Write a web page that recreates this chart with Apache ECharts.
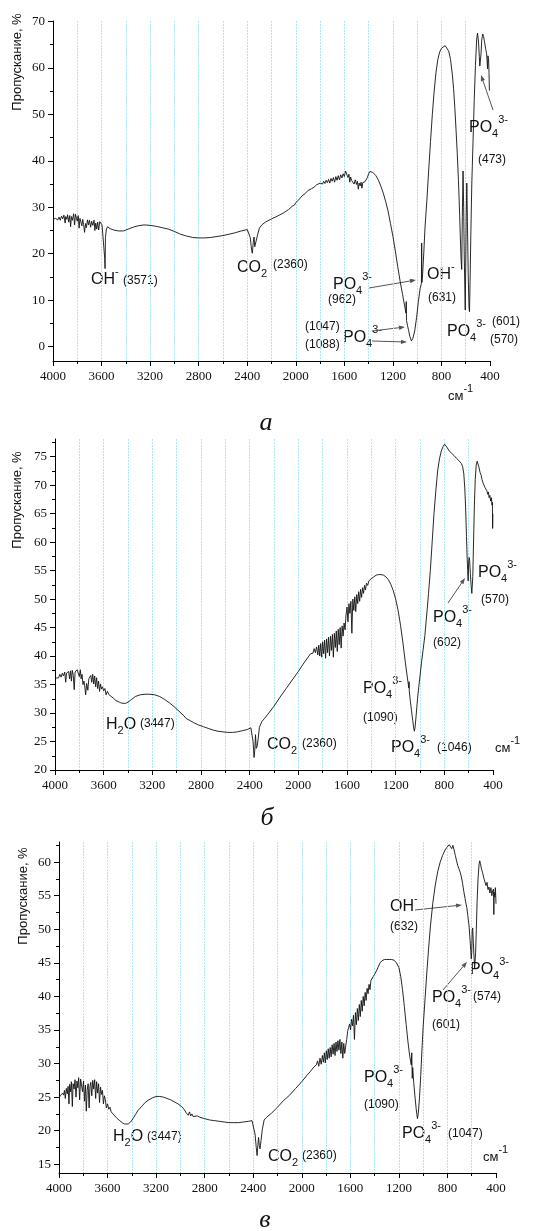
<!DOCTYPE html>
<html>
<head>
<meta charset="utf-8">
<script src="https://cdn.jsdelivr.net/npm/echarts@6/dist/echarts.min.js"></script>
<style>
  html, body { margin: 0; padding: 0; background: #fff; }
  #chart { width: 534px; height: 1231px; }
</style>
</head>
<body>
<div id="chart"></div>
<script>
// IR spectra, [wavenumber cm-1, transmission %]
const spectrumA = [
  [4000,27.4],[3980,27.6],[3960,27.3],[3950,27.9],[3940,27.2],[3930,28.1],[3920,27.5],[3910,28.3],[3900,26.6],[3895,28.0],
  [3885,27.4],[3880,28.4],[3870,26.8],[3862,28.2],[3855,25.8],[3848,28.0],[3840,27.2],[3830,28.6],[3822,26.2],[3815,28.5],
  [3808,28.7],[3800,27.0],[3792,28.2],[3785,25.5],[3778,27.6],[3770,27.9],[3762,26.0],[3755,27.4],[3748,26.3],[3740,24.6],
  [3732,26.5],[3725,25.6],[3716,27.3],[3708,26.2],[3700,27.2],[3690,25.7],[3682,27.0],[3672,26.1],[3662,27.2],[3655,25.0],
  [3648,26.6],[3640,25.3],[3632,26.8],[3624,25.1],[3615,26.9],[3606,27.0],[3596,26.2],[3588,26.0],[3580,25.8],[3574,19.0],
  [3571,16.8],[3568,23.5],[3560,25.3],[3550,25.8],[3530,25.4],[3500,25.1],[3460,24.9],[3420,24.9],[3380,25.3],[3340,25.7],
  [3300,26.0],[3250,26.2],[3200,26.1],[3150,25.9],[3100,25.6],[3050,25.3],[3000,24.8],[2950,24.2],[2900,23.8],[2850,23.5],
  [2800,23.4],[2750,23.4],[2700,23.5],[2650,23.7],[2600,23.9],[2550,24.2],[2500,24.5],[2450,24.9],[2400,25.2],[2385,25.3],
  [2375,23.5],[2365,21.0],[2358,20.1],[2350,22.5],[2344,23.6],[2338,21.5],[2330,21.2],[2315,24.0],[2300,25.5],[2280,26.2],
  [2250,26.8],[2200,27.5],[2150,28.1],[2100,28.8],[2060,29.5],[2030,30.2],[2010,30.5],[2000,31.0],[1990,30.8],[1975,31.6],
  [1950,32.4],[1920,33.0],[1900,33.6],[1870,34.0],[1850,34.3],[1830,34.8],[1800,35.2],[1780,35.0],[1770,35.6],[1760,35.1],
  [1750,35.8],[1740,35.3],[1730,36.0],[1720,35.2],[1710,36.2],[1700,35.6],[1690,36.4],[1680,35.4],[1670,36.6],[1660,35.8],
  [1650,36.8],[1640,35.9],[1630,37.0],[1620,36.3],[1610,37.2],[1600,36.6],[1590,37.8],[1580,37.4],[1570,36.4],[1562,37.1],
  [1555,35.4],[1548,36.5],[1540,35.8],[1530,36.2],[1520,35.0],[1510,35.9],[1500,34.9],[1492,35.6],[1485,33.9],[1478,35.2],
  [1470,34.6],[1462,35.4],[1455,34.1],[1448,35.3],[1440,35.0],[1430,35.5],[1420,35.2],[1410,36.4],[1400,37.2],[1390,37.7],
  [1380,37.8],[1365,37.5],[1340,36.8],[1320,35.9],[1300,34.6],[1280,33.1],[1260,31.3],[1240,29.2],[1220,26.5],[1200,23.8],
  [1180,20.6],[1160,17.2],[1140,14.0],[1120,11.2],[1100,8.3],[1092,7.2],[1090,9.7],[1088,5.6],[1080,4.6],[1070,3.4],
  [1060,2.2],[1047,1.2],[1035,1.8],[1020,3.4],[1005,6.2],[990,9.7],[975,12.6],[965,13.6],[963,22.3],[961,13.8],
  [955,15.6],[945,20.4],[935,25.8],[920,31.5],[905,38.0],[890,44.2],[875,50.0],[860,55.0],[845,59.0],[830,61.8],
  [815,63.4],[800,64.2],[785,64.6],[770,64.8],[755,64.4],[740,63.6],[725,61.8],[710,58.5],[700,55.5],[690,51.5],
  [680,46.8],[670,41.7],[660,35.8],[650,28.5],[645,24.0],[638,18.5],[633,16.6],[628,28.0],[622,37.8],[617,30.0],
  [612,19.5],[604,7.9],[600,17.0],[596,28.0],[591,35.2],[586,27.0],[579,15.0],[573,8.5],[569,7.5],[564,14.0],
  [558,24.0],[550,35.0],[540,44.0],[530,53.0],[520,60.5],[510,66.0],[503,67.5],[495,65.8],[488,62.5],[484,60.4],
  [478,60.0],[474,63.0],[468,66.0],[460,67.3],[453,66.8],[445,65.6],[435,64.0],[428,63.1],[423,62.8],[420,59.8],
  [417,62.6],[412,62.0],[408,59.0],[405,55.1]
];

const spectrumB = [
  [4000,36.1],[3985,36.4],[3970,36.2],[3960,36.8],[3950,36.3],[3940,37.0],[3930,36.5],[3920,37.2],[3912,35.4],[3905,37.0],
  [3895,36.8],[3888,37.3],[3880,36.0],[3872,37.4],[3865,35.6],[3858,37.5],[3850,36.6],[3842,34.1],[3835,37.2],[3826,36.9],
  [3818,37.6],[3808,37.8],[3800,36.4],[3792,37.6],[3785,36.0],[3778,36.8],[3770,35.0],[3762,35.6],[3755,34.6],[3748,33.2],
  [3740,35.2],[3730,34.0],[3722,36.0],[3714,35.8],[3706,36.6],[3698,35.4],[3690,36.8],[3682,35.1],[3674,36.5],[3666,34.6],
  [3658,36.2],[3650,34.3],[3642,35.6],[3634,33.8],[3626,35.1],[3618,34.2],[3610,34.6],[3600,33.9],[3590,34.3],[3580,33.2],
  [3570,33.8],[3555,33.2],[3540,33.0],[3520,32.6],[3500,32.2],[3480,32.0],[3460,31.8],[3440,31.7],[3420,31.7],[3400,31.9],
  [3370,32.4],[3340,32.9],[3300,33.2],[3260,33.3],[3220,33.3],[3180,33.2],[3140,32.9],[3100,32.4],[3060,31.8],[3020,31.1],
  [2980,30.3],[2940,29.5],[2920,29.0],[2900,28.8],[2860,28.3],[2820,27.9],[2780,27.6],[2740,27.3],[2700,27.0],[2660,26.8],
  [2620,26.7],[2580,26.6],[2540,26.6],[2500,26.7],[2460,26.9],[2420,27.1],[2390,27.4],[2380,27.5],[2372,25.0],[2364,22.2],
  [2358,23.5],[2352,26.2],[2346,23.8],[2338,24.2],[2330,25.5],[2320,27.5],[2300,28.5],[2280,29.0],[2250,29.8],[2200,31.2],
  [2150,32.8],[2100,34.3],[2050,35.8],[2000,37.3],[1960,38.6],[1920,39.8],[1900,40.4],[1880,40.5],[1870,41.3],[1860,40.6],
  [1850,41.6],[1840,40.2],[1832,41.9],[1824,40.0],[1816,42.2],[1808,39.8],[1800,42.5],[1792,40.4],[1784,42.8],[1776,39.6],
  [1768,43.0],[1760,40.6],[1752,43.3],[1744,40.0],[1736,43.5],[1728,41.0],[1720,43.8],[1712,39.8],[1704,44.0],[1696,41.5],
  [1688,44.4],[1680,40.8],[1672,44.7],[1664,42.0],[1656,45.0],[1648,41.4],[1640,45.3],[1632,43.5],[1624,45.8],[1616,44.6],
  [1608,47.2],[1600,48.6],[1592,46.0],[1584,49.2],[1576,47.5],[1568,49.6],[1560,44.0],[1552,50.0],[1544,48.0],[1536,50.4],
  [1528,47.8],[1520,50.8],[1512,49.2],[1504,51.3],[1496,49.6],[1488,51.7],[1480,50.3],[1472,52.0],[1464,51.0],[1456,52.4],
  [1448,51.6],[1440,52.8],[1430,52.4],[1420,53.2],[1410,53.0],[1400,53.6],[1380,53.9],[1360,54.2],[1340,54.3],[1320,54.3],
  [1300,54.2],[1280,53.9],[1260,53.4],[1240,52.6],[1220,51.5],[1200,50.0],[1180,48.0],[1160,45.4],[1140,42.3],[1120,38.8],
  [1100,35.6],[1092,34.4],[1090,35.5],[1088,33.8],[1080,32.2],[1070,30.5],[1060,28.7],[1050,27.2],[1046,26.8],[1040,27.6],
  [1030,30.0],[1020,32.6],[1010,34.6],[1000,36.5],[988,38.8],[975,41.0],[960,43.6],[950,46.0],[940,48.4],[930,51.0],
  [915,55.0],[900,60.0],[885,65.0],[870,69.0],[855,72.5],[840,74.6],[825,76.0],[810,76.8],[798,77.2],[790,77.0],
  [780,76.7],[770,76.4],[760,76.0],[750,75.8],[740,75.6],[730,75.5],[720,75.2],[710,75.0],[700,74.7],[690,74.5],
  [680,74.3],[670,74.0],[660,73.8],[650,73.3],[640,72.0],[632,69.5],[625,66.0],[618,61.0],[612,57.0],[608,55.0],
  [604,53.2],[600,56.5],[596,57.3],[592,56.8],[586,54.5],[580,52.4],[574,51.0],[570,51.3],[566,54.0],[560,60.0],
  [553,66.5],[546,71.0],[538,73.5],[530,74.2],[522,74.0],[514,73.0],[506,72.2],[498,71.8],[490,71.0],[482,70.4],
  [474,70.6],[466,69.6],[458,69.9],[450,69.0],[444,68.4],[438,68.8],[432,67.8],[426,68.2],[420,67.2],[414,67.8],
  [408,66.5],[405,67.0],[403,62.4],[401,65.0]
];

const spectrumC = [
  [4000,24.9],[3990,25.2],[3980,25.0],[3970,25.6],[3962,25.3],[3955,26.0],[3948,24.8],[3940,26.3],[3932,25.5],[3925,26.6],
  [3918,24.0],[3912,26.9],[3905,25.8],[3898,27.3],[3890,23.6],[3884,27.0],[3876,26.2],[3868,27.6],[3860,25.0],[3852,27.4],
  [3845,26.4],[3838,27.9],[3830,24.6],[3822,27.7],[3815,27.8],[3806,25.8],[3798,27.4],[3790,24.4],[3782,26.8],[3775,22.9],
  [3768,26.0],[3760,27.0],[3752,23.4],[3745,26.6],[3738,27.2],[3730,25.2],[3722,27.5],[3714,26.2],[3706,27.6],[3698,24.8],
  [3690,27.3],[3682,25.6],[3674,27.0],[3666,24.2],[3658,26.5],[3650,25.4],[3642,26.0],[3634,24.0],[3626,25.2],[3618,24.6],
  [3610,23.4],[3600,24.0],[3590,23.2],[3580,23.5],[3570,22.8],[3555,22.6],[3540,22.2],[3520,21.8],[3500,21.5],[3480,21.2],
  [3460,21.0],[3445,20.9],[3430,21.0],[3410,21.3],[3390,21.8],[3370,22.4],[3350,23.0],[3320,23.6],[3290,24.2],[3260,24.6],
  [3230,24.9],[3200,25.1],[3170,25.1],[3140,25.0],[3110,24.8],[3080,24.6],[3050,24.3],[3020,24.0],[2990,23.6],[2970,23.2],
  [2950,22.6],[2935,22.3],[2925,22.8],[2915,22.2],[2905,22.5],[2895,22.1],[2880,22.3],[2860,22.2],[2840,22.0],[2800,21.8],
  [2760,21.6],[2720,21.5],[2680,21.4],[2640,21.3],[2600,21.2],[2560,21.2],[2520,21.2],[2480,21.3],[2440,21.4],[2410,21.5],
  [2395,21.5],[2385,19.5],[2375,17.5],[2368,16.3],[2362,17.8],[2356,19.0],[2350,17.8],[2344,17.3],[2336,18.5],[2325,20.2],
  [2310,21.6],[2290,22.0],[2250,22.6],[2200,23.5],[2150,24.5],[2100,25.3],[2050,26.3],[2000,27.3],[1960,28.2],[1930,28.8],
  [1900,29.5],[1880,29.8],[1870,30.4],[1860,29.6],[1850,30.8],[1840,29.9],[1830,31.2],[1822,30.2],[1814,31.6],[1806,30.1],
  [1798,31.9],[1790,30.6],[1782,32.2],[1774,30.8],[1766,32.4],[1758,31.0],[1750,32.8],[1742,31.4],[1734,33.0],[1726,31.2],
  [1718,33.2],[1710,31.8],[1702,33.4],[1694,32.0],[1686,33.6],[1678,31.5],[1670,33.2],[1662,30.8],[1654,33.0],[1646,31.5],
  [1638,32.6],[1630,33.6],[1622,34.8],[1614,35.4],[1606,35.9],[1598,35.0],[1590,36.6],[1582,35.6],[1574,37.2],[1566,33.6],
  [1558,37.6],[1550,35.8],[1542,38.2],[1534,36.4],[1526,38.8],[1518,37.0],[1510,39.4],[1502,37.8],[1494,40.0],[1486,38.6],
  [1478,40.6],[1470,39.4],[1462,41.2],[1454,40.4],[1446,41.8],[1438,41.0],[1430,42.4],[1420,42.2],[1410,43.0],[1400,43.3],
  [1385,43.8],[1370,44.4],[1355,45.0],[1340,45.3],[1320,45.5],[1300,45.5],[1280,45.5],[1260,45.5],[1240,45.4],[1220,45.0],
  [1200,44.3],[1185,43.0],[1170,41.0],[1155,38.5],[1140,35.8],[1125,33.2],[1110,31.0],[1098,29.8],[1094,31.6],[1090,27.8],
  [1086,29.4],[1078,27.2],[1068,25.2],[1058,23.3],[1050,22.2],[1047,21.8],[1040,22.6],[1030,25.0],[1020,28.2],[1010,32.0],
  [1000,35.5],[985,39.5],[970,43.5],[955,47.2],[940,50.5],[920,54.0],[900,56.6],[880,58.6],[860,60.0],[840,61.0],
  [820,61.8],[805,62.2],[795,62.4],[785,62.6],[775,62.4],[765,62.0],[755,62.5],[745,61.8],[735,61.0],[725,60.2],
  [715,59.5],[705,59.0],[695,58.5],[685,57.8],[675,56.8],[665,55.6],[655,54.6],[648,53.9],[640,53.2],[632,52.0],
  [622,50.5],[614,48.5],[608,46.8],[604,45.6],[600,46.5],[596,49.8],[592,50.2],[588,48.5],[582,46.2],[576,44.2],
  [572,44.0],[568,46.5],[562,50.0],[556,54.0],[548,57.5],[540,59.6],[534,60.2],[528,59.8],[520,59.0],[510,58.4],
  [500,57.6],[490,57.4],[482,56.5],[474,57.0],[466,55.9],[458,56.3],[450,55.4],[442,56.2],[434,55.0],[428,55.7],
  [420,56.0],[418,52.2],[415,55.5],[410,54.8],[405,56.2],[400,53.8]
];

// y tick values per panel
const yMajorA = [0, 10, 20, 30, 40, 50, 60, 70];
const yMinorA = [5, 15, 25, 35, 45, 55, 65];
const yMajorB = [20, 25, 30, 35, 40, 45, 50, 55, 60, 65, 70, 75];
const yMinorB = [22.5, 27.5, 32.5, 37.5, 42.5, 47.5, 52.5, 57.5, 62.5, 67.5, 72.5, 77.5];
const yMajorC = [15, 20, 25, 30, 35, 40, 45, 50, 55, 60];
const yMinorC = [17.5, 22.5, 27.5, 32.5, 37.5, 42.5, 47.5, 52.5, 57.5, 62.5];

const SERIF = '"Liberation Serif", "Times New Roman", serif';
const SANS = '"Liberation Sans", Arial, sans-serif';
const MAIN = 16, SMALL = 11, NOTE = 12;

const panels = [
  { data: spectrumA, yMin: -3.1, yMax: 70.1, major: yMajorA, minor: yMinorA, grid: { left: 53, top: 21, width: 437, height: 340 } },
  { data: spectrumB, yMin: 20, yMax: 78.1, major: yMajorB, minor: yMinorB, grid: { left: 55, top: 439, width: 438, height: 331 } },
  { data: spectrumC, yMin: 13.7, yMax: 63, major: yMajorC, minor: yMinorC, grid: { left: 59, top: 842, width: 437, height: 331 } }
];

const gridLine = { color: '#a9e9f1', width: 1, type: [2, 1] };

const grids = [], xAxes = [], yAxes = [], series = [];
panels.forEach((p, i) => {
  grids.push(p.grid);
  xAxes.push({
    gridIndex: i, type: 'value', inverse: true, min: 400, max: 4000, interval: 400,
    axisLine: { show: true, onZero: false, lineStyle: { color: '#000', width: 1 } },
    axisTick: { show: true, length: 5, lineStyle: { color: '#000' } },
    minorTick: { show: true, splitNumber: 2, length: 3, lineStyle: { color: '#000' } },
    axisLabel: { fontFamily: SERIF, fontSize: 13, color: '#111', margin: 9, formatter: v => String(v) },
    splitLine: { show: true, showMinLine: false, showMaxLine: false, lineStyle: gridLine },
    minorSplitLine: { show: true, lineStyle: gridLine }
  });
  yAxes.push({
    gridIndex: i, type: 'value', position: 'left', min: p.yMin, max: p.yMax,
    axisLine: { show: true, onZero: false, lineStyle: { color: '#000', width: 1 } },
    axisTick: { show: true, length: 5, customValues: p.major, lineStyle: { color: '#000' } },
    axisLabel: { customValues: p.major, fontFamily: SERIF, fontSize: 13, color: '#111', margin: 8, formatter: v => String(v) },
    splitLine: { show: false }
  });
  yAxes.push({
    gridIndex: i, type: 'value', position: 'left', min: p.yMin, max: p.yMax,
    axisLine: { show: false },
    axisTick: { show: true, length: 3, customValues: p.minor, lineStyle: { color: '#000' } },
    axisLabel: { show: false },
    splitLine: { show: false }
  });
  series.push({
    type: 'line', xAxisIndex: i, yAxisIndex: 2 * i, data: p.data,
    showSymbol: false, symbol: 'none', clip: true,
    lineStyle: { color: '#111', width: 0.9 }
  });
});

// annotation helpers
const ctx = document.createElement('canvas').getContext('2d');
function textWidth(s, size) {
  ctx.font = size + 'px ' + SANS;
  return ctx.measureText(s).width;
}
function txt(x, y, s, size, extra) {
  return Object.assign({
    type: 'text', x: x, y: y, silent: true,
    style: { text: s, fontSize: size, fontFamily: SANS, fill: '#111', align: 'left', verticalAlign: 'middle' }
  }, extra || {});
}
// formula like PO4(3-): main text, subscript, continuation, superscript
function chem(x, y, main, sub, sup, rest) {
  const out = [txt(x, y, main, MAIN)];
  let cx = x + textWidth(main, MAIN);
  if (sub) {
    out.push(txt(cx, y + 6, sub, SMALL));
    cx += textWidth(sub, SMALL);
  }
  if (rest) {
    out.push(txt(cx, y, rest, MAIN));
    cx += textWidth(rest, MAIN);
  }
  if (sup) out.push(txt(cx, y - 8, sup, SMALL));
  return out;
}
function note(x, y, s) { return txt(x, y, s, NOTE); }
function arrow(x1, y1, x2, y2) {
  const a = Math.atan2(y2 - y1, x2 - x1), L = 6, W = 2.2;
  const bx = x2 - L * Math.cos(a), by = y2 - L * Math.sin(a);
  const nx = -Math.sin(a) * W, ny = Math.cos(a) * W;
  return [
    { type: 'line', silent: true, shape: { x1: x1, y1: y1, x2: bx, y2: by }, style: { stroke: '#555', lineWidth: 1 } },
    { type: 'polygon', silent: true, shape: { points: [[x2, y2], [bx + nx, by + ny], [bx - nx, by - ny]] }, style: { fill: '#555' } }
  ];
}
function yTitle(x, y) {
  return txt(x, y, 'Пропускание, %', 13, { rotation: Math.PI / 2, style: { text: 'Пропускание, %', fontSize: 13, fontFamily: SANS, fill: '#111', align: 'center', verticalAlign: 'middle' } });
}
function panelLetter(x, y, s) {
  return { type: 'text', x: x, y: y, silent: true, style: { text: s, fontSize: 26, fontStyle: 'italic', fontFamily: SERIF, fill: '#111', align: 'center', verticalAlign: 'middle' } };
}
function unit(x, y) {
  return [txt(x, y, 'см', 13), txt(x + textWidth('см', 13), y - 7, '-1', SMALL)];
}

const graphics = [].concat(
  // panel a
  yTitle(17, 62),
  chem(91, 280, 'OH', null, '-'), note(123, 281, '(3571)'),
  chem(237, 268, 'CO', '2'), note(273, 265, '(2360)'),
  chem(333, 285, 'PO', '4', '3-'), note(328, 300, '(962)'), arrow(369, 288, 416, 280),
  chem(427, 275, 'OH', null, '-'), note(428, 298, '(631)'),
  note(305, 327, '(1047)'), note(305, 345, '(1088)'), chem(343, 338, 'PO', '4', '3-'),
  arrow(372, 331, 405, 327), arrow(372, 341, 407, 342),
  chem(447, 332, 'PO', '4', '3-'), note(492, 322, '(601)'), note(490, 340, '(570)'),
  chem(469, 128, 'PO', '4', '3-'), note(478, 160, '(473)'), arrow(493, 110, 481, 75),
  unit(448, 396),
  panelLetter(266, 423, 'а'),
  // panel b
  yTitle(17, 500),
  chem(106, 725, 'H', '2', null, 'O'), note(140, 724, '(3447)'),
  chem(267, 745, 'CO', '2'), note(302, 744, '(2360)'),
  chem(363, 689, 'PO', '4', '3-'), note(363, 718, '(1090)'),
  chem(391, 748, 'PO', '4', '3-'), note(437, 748, '(1046)'),
  unit(495, 748),
  chem(433, 618, 'PO', '4', '3-'), note(433, 643, '(602)'), arrow(448, 603, 465, 578),
  chem(478, 573, 'PO', '4', '3-'), note(481, 600, '(570)'),
  panelLetter(267, 818, 'б'),
  // panel c
  yTitle(23, 896),
  chem(390, 907, 'OH', null, '-'), note(390, 927, '(632)'), arrow(415, 910, 462, 905),
  chem(432, 998, 'PO', '4', '3-'), note(432, 1025, '(601)'), arrow(443, 990, 467, 962),
  chem(470, 970, 'PO', '4', '3-'), note(473, 997, '(574)'),
  chem(364, 1078, 'PO', '4', '3-'), note(364, 1105, '(1090)'),
  chem(402, 1134, 'PO', '4', '3-'), note(448, 1134, '(1047)'),
  chem(113, 1137, 'H', '2', null, 'O'), note(147, 1137, '(3447)'),
  chem(268, 1157, 'CO', '2'), note(302, 1156, '(2360)'),
  unit(483, 1157),
  panelLetter(265, 1220, 'в')
);

const chart = echarts.init(document.getElementById('chart'), null, { renderer: 'canvas' });
chart.setOption({
  backgroundColor: '#fff',
  animation: false,
  grid: grids,
  xAxis: xAxes,
  yAxis: yAxes,
  series: series,
  graphic: graphics
});
</script>
</body>
</html>
